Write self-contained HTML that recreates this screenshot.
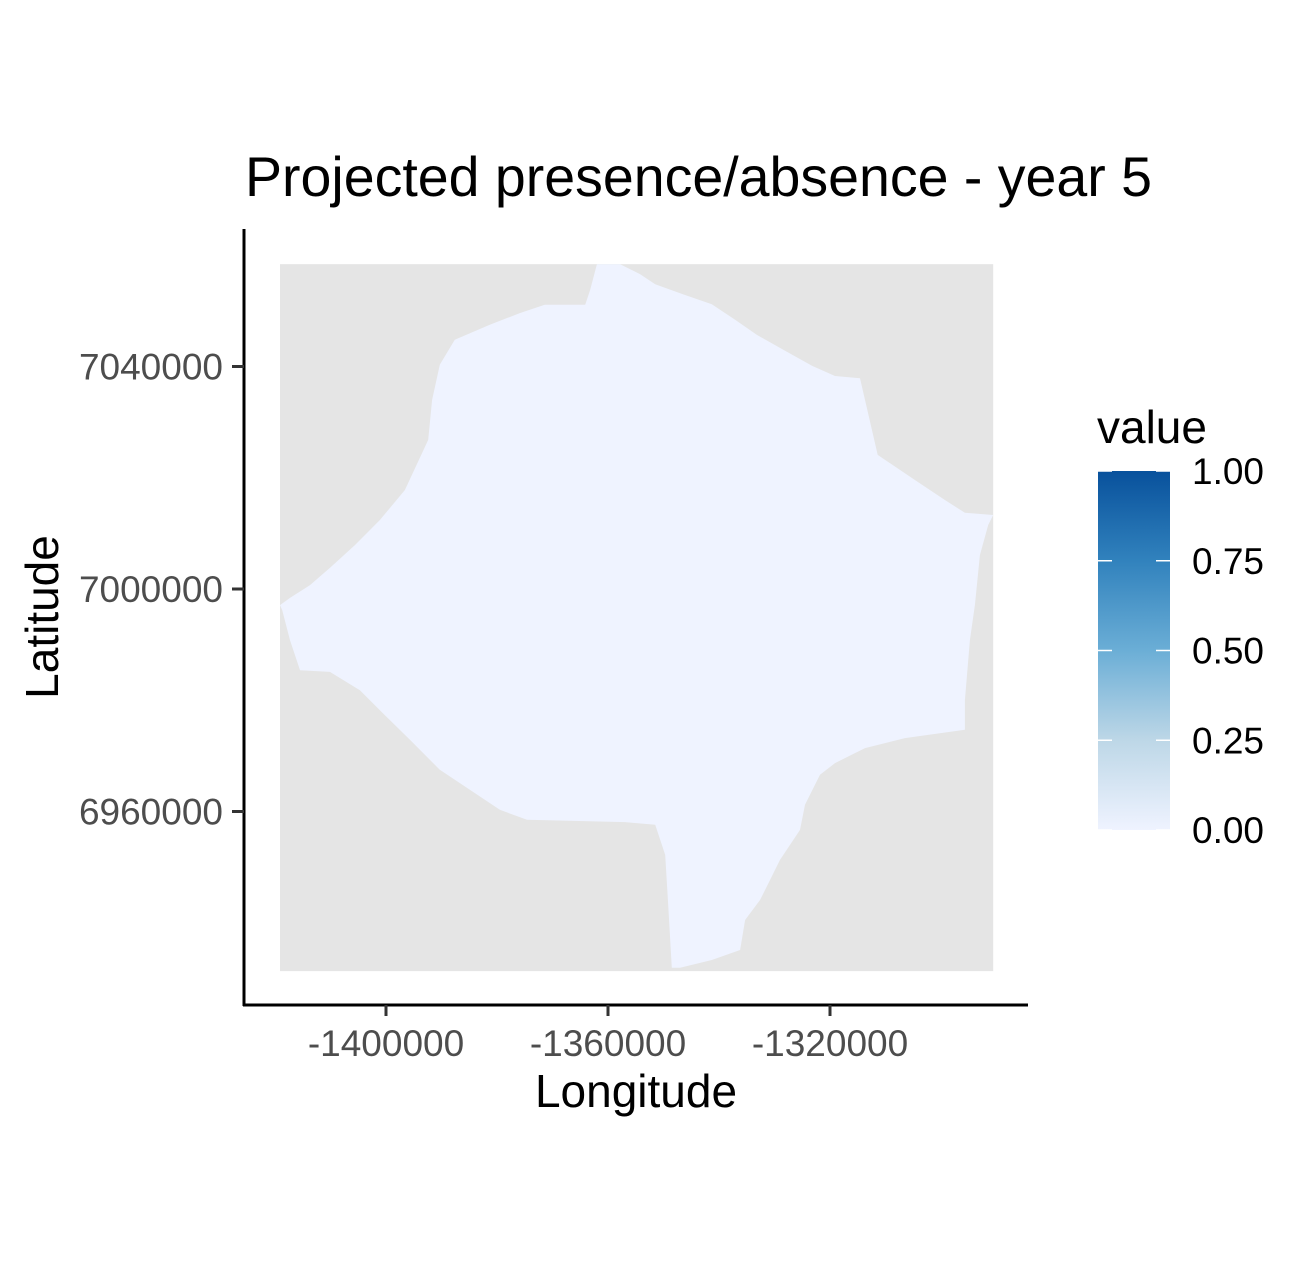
<!DOCTYPE html>
<html><head><meta charset="utf-8"><style>
body{margin:0;background:#fff}
svg{display:block;font-family:"Liberation Sans",Arial,sans-serif}
</style></head><body>
<svg id="chart" width="1311" height="1271" viewBox="0 0 1311 1271">
<defs><linearGradient id="blues" x1="0" y1="1" x2="0" y2="0">
<stop offset="0" stop-color="#eff3ff"/><stop offset="0.25" stop-color="#bdd7e7"/><stop offset="0.5" stop-color="#6baed6"/><stop offset="0.75" stop-color="#3182bd"/><stop offset="1" stop-color="#08519c"/></linearGradient></defs>
<text x="245" y="196" font-size="55.5" fill="#000">Projected presence/absence - year 5</text>
<g id="plot"></g>
<line x1="244" y1="229" x2="244" y2="1006" stroke="#000" stroke-width="3"/>
<line x1="243" y1="1005" x2="1028" y2="1005" stroke="#000" stroke-width="3"/>
<g id="axes"></g>
<text x="636" y="1107" font-size="46" text-anchor="middle">Longitude</text>
<text transform="translate(58,617) rotate(-90)" font-size="46" text-anchor="middle">Latitude</text>
<g>
<text x="1097" y="443" font-size="46">value</text>
<rect x="1098" y="471" width="72" height="359" fill="url(#blues)"/>
<g id="legend-ticks"></g>
</g>
</svg>
<script>
// raster extent (thousands)
const extentLon = [-1419.1, -1290.6];
const extentLat = [6931.3, 7058.4];
// presence polygon boundary, lon/lat in thousands
const polyLon = [-1362,-1357.8,-1354.2,-1351.5,-1346.5,-1341.3,-1337.1,-1333.2,-1327.7,-1323.2,-1319.1,-1314.6,-1313.7,-1311.4,-1304.7,-1299.3,-1295.7,-1290.6,-1291.5,-1293,-1293.9,-1294.8,-1295.7,-1295.7,-1306.5,-1313.7,-1319.1,-1321.8,-1324.5,-1325.4,-1329,-1330.8,-1332.6,-1335.3,-1336.2,-1341.3,-1347,-1348.5,-1349.2,-1349.7,-1351.5,-1356.9,-1374.6,-1379.5,-1384.9,-1390.3,-1395.7,-1401.1,-1404.7,-1410.1,-1415.5,-1417.3,-1418.7,-1419.1,-1417.3,-1413.7,-1410.1,-1405.6,-1401.1,-1396.6,-1392.4,-1391.7,-1390.3,-1387.6,-1381.3,-1375.9,-1371.4,-1364.1,-1363.2];
const polyLat = [7058.4,7058.4,7056.6,7054.8,7053,7051.2,7048.4,7045.7,7042.6,7040.1,7038.3,7037.9,7034,7024.1,7019.6,7016,7013.7,7013.3,7011.5,7006.1,6997.1,6990.8,6980,6974.7,6973.2,6971.4,6968.7,6966.6,6961.2,6956.7,6951.3,6947.7,6944.1,6940.5,6935.1,6933.3,6931.9,6931.9,6944.1,6952.2,6957.6,6958.1,6958.5,6960.3,6963.9,6967.5,6972.9,6978.2,6981.8,6985.1,6985.4,6990.8,6996.2,6997.1,6998.4,7000.7,7003.8,7007.9,7012.4,7017.8,7026.8,7034,7040.3,7044.8,7047.5,7049.6,7051.1,7051.1,7053.8];
const xTicks = [-1400, -1360, -1320];
const xTickLabels = ["-1400000","-1360000","-1320000"];
const yTicks = [7040, 7000, 6960];
const yTickLabels = ["7040000","7000000","6960000"];
const legendValues = [0, 0.25, 0.5, 0.75, 1];
const legendLabels = ["0.00","0.25","0.50","0.75","1.00"];

const NS="http://www.w3.org/2000/svg";
const xs = v => 386 + (v + 1400) * 5.55;
const ys = v => 589 - (v - 7000) * 5.5625;
const ls = v => 830 - v * 359;
function mk(tag, attrs, parent){const e=document.createElementNS(NS,tag);for(const k in attrs)e.setAttribute(k,attrs[k]);parent.appendChild(e);return e;}
const plot=document.getElementById('plot'), axes=document.getElementById('axes'), lt=document.getElementById('legend-ticks');

const bg=mk('rect',{x:xs(extentLon[0]),y:ys(extentLat[1]),width:xs(extentLon[1])-xs(extentLon[0]),height:ys(extentLat[0])-ys(extentLat[1]),fill:'#e5e5e5'},plot);


const pts=polyLon.map((v,i)=>xs(v).toFixed(1)+','+ys(polyLat[i]).toFixed(1)).join(' ');
const pg=mk('polygon',{points:pts,fill:'#eff3ff'},plot);



xTicks.forEach((v,i)=>{
  const t=mk('line',{x1:xs(v),x2:xs(v),y1:1005,y2:1016,stroke:'#333','stroke-width':3},axes);
  
  
  const l=mk('text',{x:xs(v),y:1056,'font-size':37,fill:'#4d4d4d','text-anchor':'middle'},axes);
  l.textContent=xTickLabels[i];
  
  
});
yTicks.forEach((v,i)=>{
  const t=mk('line',{x1:232,x2:244,y1:ys(v),y2:ys(v),stroke:'#333','stroke-width':3},axes);
  
  
  const l=mk('text',{x:223,y:ys(v)+13,'font-size':37,fill:'#4d4d4d','text-anchor':'end'},axes);
  l.textContent=yTickLabels[i];
  
  
});
legendValues.forEach((v,i)=>{
  const a=mk('line',{x1:1098,x2:1112,y1:ls(v),y2:ls(v),stroke:'#fff','stroke-width':1.5},lt);
  
  
  const b=mk('line',{x1:1156,x2:1170,y1:ls(v),y2:ls(v),stroke:'#fff','stroke-width':1.5},lt);
  
  
  const l=mk('text',{x:1192,y:ls(v)+13,'font-size':37,fill:'#000'},lt);
  l.textContent=legendLabels[i];
  
  
});
</script>
</body></html>
